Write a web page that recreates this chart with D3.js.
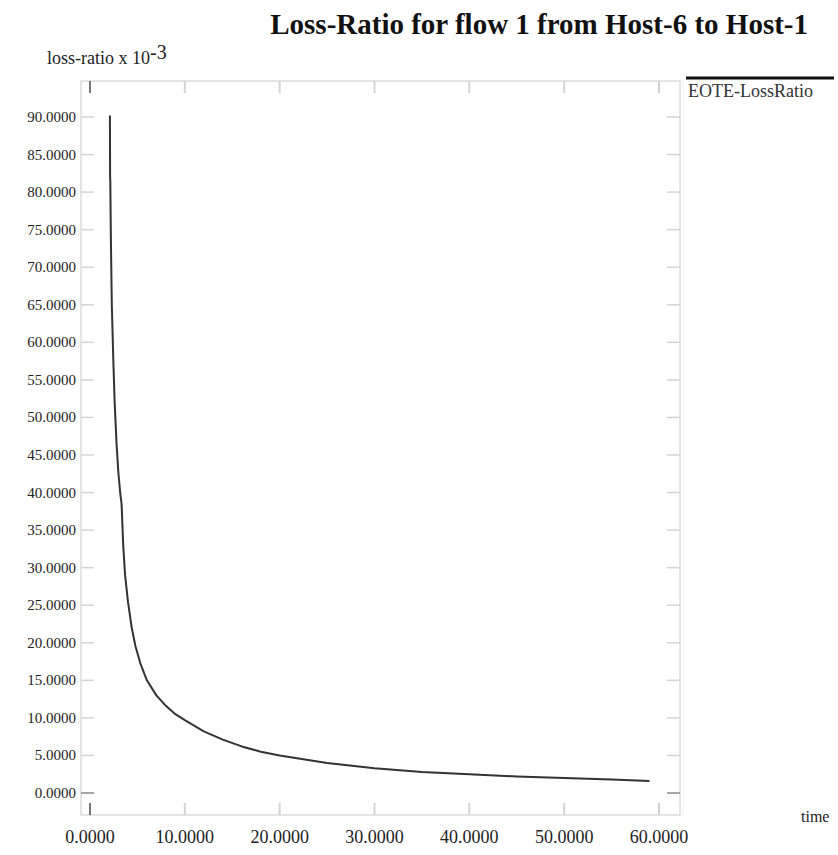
<!DOCTYPE html>
<html>
<head>
<meta charset="utf-8">
<script src="https://cdn.jsdelivr.net/npm/d3@7/dist/d3.min.js"></script>
<style>
  html, body { margin: 0; padding: 0; background: #fff; }
  svg { display: block; font-family: "Liberation Serif", "Times New Roman", serif; }
</style>
</head>
<body>
<svg id="chart" width="838" height="855"></svg>
<script>
// Cumulative loss ratio of flow 1 (x 10^-3) over simulation time
const times  = [2.10, 2.11, 2.12, 2.14, 2.2, 2.3, 2.45, 2.6, 2.8, 3.0, 3.2, 3.32, 3.36, 3.5, 3.7, 4.0, 4.4, 4.8, 5.3, 6.0, 7.0, 8.0, 9.0, 10.0, 12.0, 14.0, 16.0, 18.0, 20.0, 25.0, 30.0, 35.0, 40.0, 45.0, 50.0, 55.0, 59.0];
const ratios = [90.2, 86.0, 82.0, 81.5, 74.0, 65.0, 58.0, 52.0, 46.5, 42.5, 39.8, 38.6, 37.6, 33.0, 29.0, 25.5, 22.0, 19.5, 17.3, 15.0, 13.0, 11.6, 10.5, 9.7, 8.2, 7.1, 6.2, 5.5, 5.0, 4.0, 3.3, 2.8, 2.5, 2.2, 2.0, 1.8, 1.6];

const xTicks = [0, 10, 20, 30, 40, 50, 60];
const yTicks = [0, 5, 10, 15, 20, 25, 30, 35, 40, 45, 50, 55, 60, 65, 70, 75, 80, 85, 90];
const seriesName = "EOTE-LossRatio";
const titleText = "Loss-Ratio for flow 1 from Host-6 to Host-1";

const svg = d3.select("#chart");
const frame = { left: 81, right: 680, top: 81, bottom: 815 };

const x = d3.scaleLinear().domain([0, 60]).range([90, 659]);
const y = d3.scaleLinear().domain([0, 90]).range([793, 117]);

// plot frame
svg.append("rect")
  .attr("x", frame.left).attr("y", frame.top)
  .attr("width", frame.right - frame.left).attr("height", frame.bottom - frame.top)
  .attr("fill", "none").attr("stroke", "#dcdcdc").attr("stroke-width", 1.5);
svg.append("line")
  .attr("x1", frame.right + 3).attr("x2", frame.right + 3)
  .attr("y1", frame.top).attr("y2", frame.bottom)
  .attr("stroke", "#eeeeee").attr("stroke-width", 1);

// x ticks along the top and the bottom edge
const xt = svg.append("g");
xTicks.forEach(t => {
  xt.append("line")
    .attr("x1", x(t)).attr("x2", x(t))
    .attr("y1", frame.top).attr("y2", frame.top + 12)
    .attr("stroke", t === 0 ? "#777" : "#d4d4d4").attr("stroke-width", 2);
  xt.append("line")
    .attr("x1", x(t)).attr("x2", x(t))
    .attr("y1", frame.bottom).attr("y2", frame.bottom - 12)
    .attr("stroke", t === 0 ? "#777" : "#d4d4d4").attr("stroke-width", 2);
  xt.append("text")
    .attr("x", x(t)).attr("y", 843)
    .attr("text-anchor", "middle")
    .attr("font-size", 18).attr("fill", "#222")
    .text(d3.format(".4f")(t));
});

// y ticks along the left and right edges
const yt = svg.append("g");
yTicks.forEach(v => {
  yt.append("line")
    .attr("x1", frame.left).attr("x2", frame.left + 13)
    .attr("y1", y(v)).attr("y2", y(v))
    .attr("stroke", v === 0 ? "#888" : "#d4d4d4").attr("stroke-width", 1.5);
  yt.append("line")
    .attr("x1", frame.right).attr("x2", frame.right - 13)
    .attr("y1", y(v)).attr("y2", y(v))
    .attr("stroke", v === 0 ? "#888" : "#d4d4d4").attr("stroke-width", 1.5);
  yt.append("text")
    .attr("x", 76).attr("y", y(v) + 5)
    .attr("text-anchor", "end")
    .attr("font-size", 15).attr("fill", "#222")
    .text(d3.format(".4f")(v));
});

// data line
const line = d3.line().x((d, i) => x(times[i])).y(d => y(d));
svg.append("path")
  .datum(ratios)
  .attr("d", line)
  .attr("fill", "none")
  .attr("stroke", "#333")
  .attr("stroke-width", 2)
  .attr("stroke-linejoin", "round");

// title
svg.append("text")
  .attr("x", 808).attr("y", 34)
  .attr("text-anchor", "end")
  .attr("font-size", 29).attr("font-weight", "bold").attr("fill", "#111")
  .text(titleText);

// y axis label
const yl = svg.append("text")
  .attr("x", 47).attr("y", 64)
  .attr("font-size", 18).attr("fill", "#222");
yl.append("tspan").text("loss-ratio x 10");
yl.append("tspan").attr("dy", -5).attr("font-size", 20).text("-3");

// x axis label
svg.append("text")
  .attr("x", 801).attr("y", 822)
  .attr("font-size", 16).attr("fill", "#222")
  .text("time");

// legend
svg.append("line")
  .attr("x1", 686).attr("x2", 834).attr("y1", 78).attr("y2", 78)
  .attr("stroke", "#111").attr("stroke-width", 3);
svg.append("text")
  .attr("x", 688).attr("y", 97)
  .attr("font-size", 18).attr("fill", "#333")
  .text(seriesName);
</script>
</body>
</html>
